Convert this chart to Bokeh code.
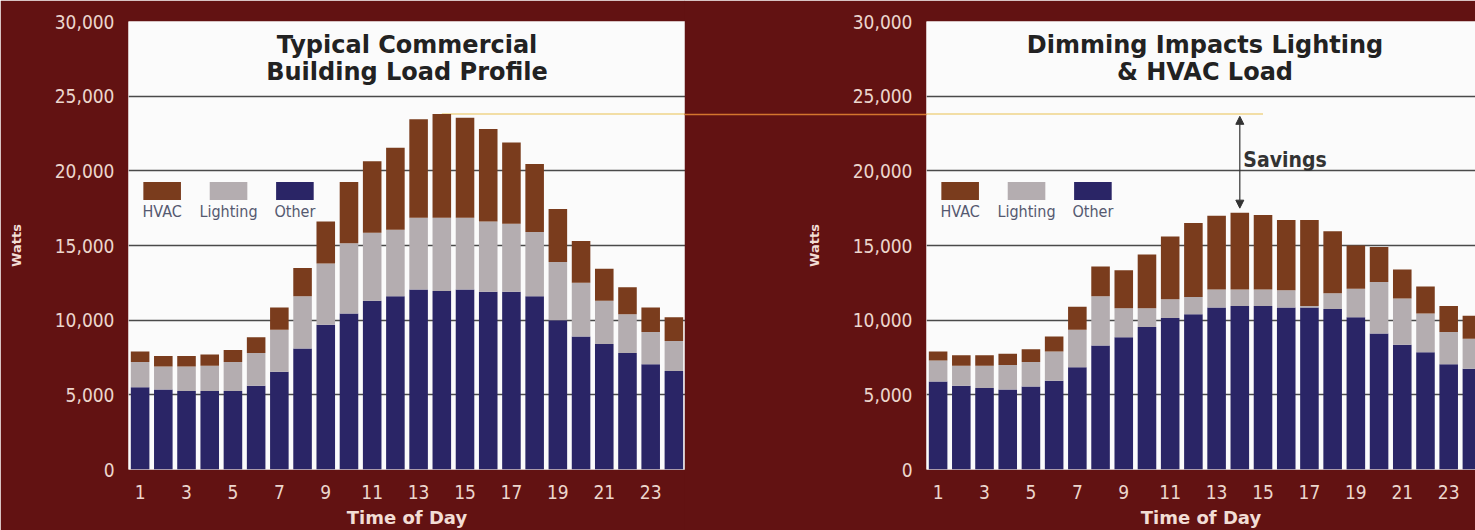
from bokeh.plotting import figure
from bokeh.layouts import row
from bokeh.models import (FixedTicker, NumeralTickFormatter, Range1d, Label, Arrow,
                          NormalHead, ColumnDataSource)
from bokeh.embed import file_html
from bokeh.resources import INLINE

# ---------------- data ----------------
hours = list(range(1, 25))
x_ticks = [1, 3, 5, 7, 9, 11, 13, 15, 17, 19, 21, 23]
y_ticks = [0, 5000, 10000, 15000, 20000, 25000, 30000]
grid_ticks = [5000, 10000, 15000, 20000, 25000]
series = ["Other", "Lighting", "HVAC"]
legend_order = ["HVAC", "Lighting", "Other"]

# Typical commercial building (left)
other_before = [5500, 5350, 5250, 5250, 5250, 5600, 6550, 8100, 9700, 10450, 11300, 11600,
                12050, 11950, 12050, 11900, 11900, 11600, 10000, 8900, 8400, 7800, 7050, 6600]
lighting_before = [1700, 1550, 1650, 1700, 1950, 2200, 2800, 3500, 4100, 4700, 4550, 4450,
                   4800, 4900, 4800, 4700, 4550, 4300, 3900, 3600, 2900, 2600, 2150, 2000]
hvac_before = [700, 700, 700, 750, 800, 1050, 1500, 1900, 2800, 4100, 4800, 5500,
               6600, 6950, 6700, 6200, 5450, 4550, 3550, 2800, 2150, 1800, 1650, 1600]

# With dimming (right)
other_after = [5900, 5600, 5450, 5350, 5550, 5950, 6850, 8300, 8850, 9550, 10150, 10400,
               10850, 10950, 10950, 10850, 10850, 10750, 10200, 9100, 8350, 7850, 7050, 6750]
lighting_after = [1400, 1350, 1500, 1650, 1650, 1950, 2500, 3300, 1950, 1250, 1250, 1150,
                  1200, 1100, 1100, 1150, 100, 1050, 1900, 3450, 3100, 2600, 2150, 2000]
hvac_after = [600, 700, 700, 750, 850, 1000, 1550, 2000, 2550, 3600, 4200, 4950,
              4950, 5150, 5000, 4700, 5750, 4150, 2900, 2350, 1950, 1800, 1750, 1550]

titles = [["Typical Commercial", "Building Load Profile"],
          ["Dimming Impacts Lighting", "& HVAC Load"]]

# ---------------- style ----------------
BG = "#621212"
PANEL = "#fbfbfb"
TICK_COLOR = "#ecd6cd"
ORANGE = "#d4762e"
PALE = "#efd58a"
COLORS = {"Other": "#2a2566", "Lighting": "#b4adb0", "HVAC": "#7a3c1d"}
NARROW = "DejaVu Sans Condensed, Liberation Sans Narrow, sans-serif"
WIDE = "DejaVu Sans"

H = 530
TOP = 21
BOTTOM = 59
FRAME_H = H - TOP - BOTTOM
PITCH = 557 / 24.0
Y_STANDOFF = 14

totals_before = [o + l + h for o, l, h in zip(other_before, lighting_before, hvac_before)]
totals_after = [o + l + h for o, l, h in zip(other_after, lighting_after, hvac_after)]
peak_before = max(totals_before)
peak_after = max(totals_after)
peak_hour_before = hours[totals_before.index(peak_before)]
peak_hour_after = hours[totals_after.index(peak_after)]


def make_panel(other, lighting, hvac, title_lines, border_left, width, x_end):
    src = ColumnDataSource(dict(hour=hours, Other=other, Lighting=lighting, HVAC=hvac))
    p = figure(width=width, height=H,
               x_range=Range1d(0.5, x_end), y_range=Range1d(0, 30000),
               output_backend="svg", toolbar_location=None,
               min_border_left=border_left, min_border_right=0,
               min_border_top=TOP, min_border_bottom=BOTTOM)
    p.background_fill_color = PANEL
    p.border_fill_color = BG
    p.outline_line_color = None

    p.xgrid.visible = False
    p.ygrid.ticker = FixedTicker(ticks=grid_ticks)
    p.ygrid.grid_line_color = "#4a4a4a"
    p.ygrid.grid_line_width = 1.5

    for ax in (p.xaxis[0], p.yaxis[0]):
        ax.axis_line_color = None
        ax.major_tick_line_color = None
        ax.minor_tick_line_color = None
        ax.major_tick_in = 0
        ax.major_tick_out = 0
        ax.minor_tick_in = 0
        ax.minor_tick_out = 0
        ax.major_label_text_font = NARROW
        ax.major_label_text_color = TICK_COLOR
        ax.axis_label_text_font = WIDE
        ax.axis_label_text_font_style = "bold"
        ax.axis_label_text_color = "#f2ddd5"

    p.yaxis.ticker = FixedTicker(ticks=y_ticks)
    p.yaxis.formatter = NumeralTickFormatter(format="0,0")
    p.yaxis.major_label_text_font_size = "19px"
    p.yaxis.major_label_standoff = Y_STANDOFF
    p.yaxis.axis_label = "Watts"
    p.yaxis.axis_label_text_font_size = "13px"
    p.yaxis.axis_label_standoff = 28

    p.xaxis.ticker = FixedTicker(ticks=x_ticks)
    p.xaxis.major_label_text_font_size = "19px"
    p.xaxis.major_label_standoff = 15
    p.xaxis.axis_label = "Time of Day"
    p.xaxis.axis_label_text_font_size = "18px"
    p.xaxis.axis_label_standoff = 5

    p.vbar_stack(series, x="hour", width=0.8, color=[COLORS[s] for s in series],
                 line_color=None, source=src)

    # titles inside the panel
    for txt, yv in zip(title_lines, [28450, 26600]):
        p.add_layout(Label(x=12.5, y=yv, text=txt, text_align="center",
                           text_baseline="middle", text_font=WIDE,
                           text_font_style="bold", text_font_size="24px",
                           text_color="#222222"))

    # legend: swatches with labels underneath
    for i, name in enumerate(legend_order):
        cx = 1.95 + i * 2.86
        p.rect(x=[cx], y=[18650], width=1.62, height=1200,
               fill_color=COLORS[name], line_color=None)
        p.add_layout(Label(x=cx, y=17250, text=name, text_align="center",
                           text_baseline="middle", text_font=NARROW,
                           text_font_size="16px", text_color="#555970"))
    return p


LEFT_W = 128 + 557
left = make_panel(other_before, lighting_before, hvac_before, titles[0], 128, LEFT_W, 24.5)
RIGHT_BORDER = 926 - LEFT_W + 1          # one extra px hidden under the left chart
RIGHT_W = 1475 - LEFT_W + 1
right = make_panel(other_after, lighting_after, hvac_after, titles[1], RIGHT_BORDER,
                   RIGHT_W, 0.5 + (RIGHT_W - RIGHT_BORDER) / PITCH)
right.margin = (0, 0, 0, -1)

# peak line carried over from the left chart to the right one
left.segment(x0=[peak_hour_before], y0=[peak_before], x1=[30], y1=[peak_before],
             line_color=PALE, line_width=1.5, level="underlay")
right.segment(x0=[-5], y0=[peak_before], x1=[peak_hour_after + 1], y1=[peak_before],
              line_color=PALE, line_width=1.5)
# across the dark gap: a long minor tick on the right chart's y axis at the old peak;
# the label standoff is reduced by the same length so the labels stay beside the panel
right.yaxis.ticker = FixedTicker(ticks=y_ticks, minor_ticks=[peak_before])
right.yaxis.minor_tick_line_color = ORANGE
right.yaxis.minor_tick_line_width = 1.6
right.yaxis.minor_tick_out = RIGHT_BORDER
right.yaxis.major_label_standoff = Y_STANDOFF - RIGHT_BORDER

# savings arrow
right.add_layout(Arrow(x_start=peak_hour_after, y_start=peak_before - 150,
                       x_end=peak_hour_after, y_end=peak_after + 300,
                       start=NormalHead(size=8, fill_color="#333333", line_color="#333333"),
                       end=NormalHead(size=8, fill_color="#333333", line_color="#333333"),
                       line_color="#333333", line_width=1.2))
right.add_layout(Label(x=peak_hour_after + 0.15, y=20700, text="Savings",
                       text_align="left", text_baseline="middle", text_font=NARROW,
                       text_font_style="bold", text_font_size="21px", text_color="#333333"))

layout = row(left, right, spacing=0)
open("out.html", "w").write(file_html(layout, INLINE))
